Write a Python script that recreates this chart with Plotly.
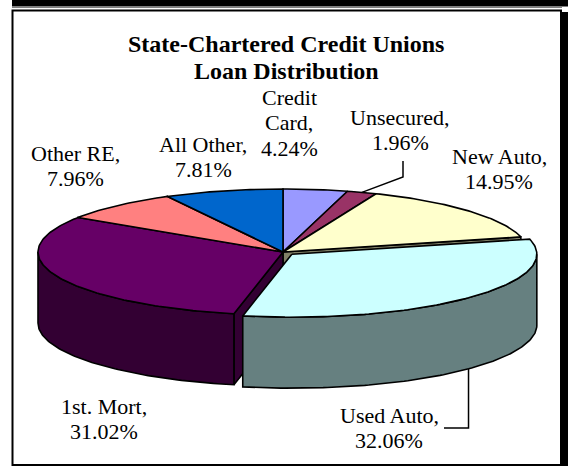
import numpy as np
import plotly.graph_objects as go

# ---------------- data ----------------
categories = ["Credit Card", "Unsecured", "New Auto", "Used Auto", "1st. Mort", "Other RE", "All Other"]
shares = [4.24, 1.96, 14.95, 32.06, 31.02, 7.96, 7.81]
label_names = [["Credit", "Card"], ["Unsecured"], ["New Auto"], ["Used Auto"], ["1st. Mort"], ["Other RE"], ["All Other"]]
title_lines = ["State-Chartered Credit Unions", "Loan Distribution"]

# ---------------- style ----------------
top_colors = ["#9999FF", "#993366", "#FFFFCC", "#CCFFFF", "#660066", "#FF8080", "#0066CC"]
side_colors = ["#4D4D80", "#4D1A33", "#808066", "#668080", "#330033", "#804040", "#003366"]
explode = [0, 0, 0, 0.05, 0, 0, 0]
CX, CY, RX, RY, DEPTH = 283.0, 252.0, 245.0, 63.0, 71.0
W, H = 568, 466
FONT = "Liberation Serif, Times New Roman, serif"
LABEL_SIZE, TITLE_SIZE = 22, 24
LINE_STEP = 25.5
# centre of the first label line (pixel layout)
label_pos = [(289, 97), (400, 117), (499, 156), (389, 415), (104, 406), (75, 153), (203, 144)]
title_pos = [(286, 44), (286, 71)]

total = float(sum(shares))
cum = np.concatenate([[0.0], np.cumsum(shares)])
starts = 360.0 * cum[:-1] / total
ends = 360.0 * cum[1:] / total


def offset(i):
    mid = np.radians((starts[i] + ends[i]) / 2)
    e = explode[i]
    return (e * RX * np.sin(mid), -e * RY * np.cos(mid))


def pt(th, z=0.0, off=(0.0, 0.0)):
    t = np.radians(th)
    return CX + off[0] + RX * np.sin(t), CY + off[1] - RY * np.cos(t) + z


def arc(a, b, z, off):
    n = max(2, int(abs(b - a) / 1.0) + 2)
    ths = np.linspace(a, b, n)
    xs, ys = pt(ths, z, off)
    return list(xs), list(ys)


fig = go.Figure()


def poly(xs, ys, color, lw=1.6):
    fig.add_trace(go.Scatter(
        x=list(xs) + [xs[0]], y=list(ys) + [ys[0]], mode="lines",
        fill="toself", fillcolor=color,
        line=dict(color="black", width=lw),
        hoverinfo="skip", showlegend=False))


def radial_faces(i, off):
    faces = []
    a, b = starts[i], ends[i]
    if np.sin(np.radians(a)) < -1e-9:
        faces.append(a)
    if np.sin(np.radians(b)) > 1e-9:
        faces.append(b)
    for th in faces:
        c0 = (CX + off[0], CY + off[1])
        e0 = pt(th, 0, off)
        e1 = pt(th, DEPTH, off)
        c1 = (CX + off[0], CY + off[1] + DEPTH)
        poly([c0[0], e0[0], e1[0], c1[0]], [c0[1], e0[1], e1[1], c1[1]], side_colors[i])


def wall(i, off):
    lo, hi = max(starts[i], 90.0), min(ends[i], 270.0)
    if hi <= lo:
        return
    xt, yt = arc(lo, hi, 0, off)
    xb, yb = arc(hi, lo, DEPTH, off)
    poly(xt + xb, yt + yb, side_colors[i])


def top(i, off):
    xa, ya = arc(starts[i], ends[i], 0, off)
    poly([CX + off[0]] + xa, [CY + off[1]] + ya, top_colors[i])


n = len(shares)
normal = [i for i in range(n) if explode[i] == 0]
exploded = [i for i in range(n) if explode[i] != 0]

face_order = sorted(normal, key=lambda i: -np.cos(np.radians((starts[i] + ends[i]) / 2)))
for i in face_order:
    radial_faces(i, (0.0, 0.0))
for i in normal:
    wall(i, (0.0, 0.0))
for i in normal:
    top(i, (0.0, 0.0))
for i in exploded:
    off = offset(i)
    radial_faces(i, off)
    wall(i, off)
    top(i, off)

# ---------------- leader lines ----------------
iu = categories.index("Unsecured")
mu = (starts[iu] + ends[iu]) / 2
ex, ey = pt(mu, 0, offset(iu))
fig.add_trace(go.Scatter(x=[403, 403, ex], y=[161, 177, ey], mode="lines",
                         line=dict(color="black", width=1.5), hoverinfo="skip", showlegend=False))
ia = categories.index("Used Auto")
ma = (starts[ia] + ends[ia]) / 2
bx, by = pt(ma, DEPTH, offset(ia))
fig.add_trace(go.Scatter(x=[bx, bx, 444], y=[by, 428, 428], mode="lines",
                         line=dict(color="black", width=1.5), hoverinfo="skip", showlegend=False))

# ---------------- labels ----------------
annotations = []


def text_line(x, y, txt, size):
    annotations.append(dict(x=x, y=y, xref="x", yref="y", text=txt, showarrow=False,
                            xanchor="center", yanchor="middle",
                            font=dict(family=FONT, size=size, color="black")))


for i in range(n):
    lines = list(label_names[i])
    lines[-1] = lines[-1] + ","
    lines.append(f"{shares[i]:.2f}%")
    x, y0 = label_pos[i]
    for k, ln in enumerate(lines):
        text_line(x, y0 + k * LINE_STEP, ln, LABEL_SIZE)
for line, (tx, ty) in zip(title_lines, title_pos):
    text_line(tx, ty, f"<b>{line}</b>", TITLE_SIZE)

# ---------------- frame ----------------
shapes = [
    dict(type="rect", xref="x", yref="y", x0=12, x1=568, y0=0, y1=6.5,
         fillcolor="black", line=dict(width=0), layer="below"),
    dict(type="line", xref="x", yref="y", x0=12, x1=562, y0=7.2, y1=7.2,
         line=dict(color="#808080", width=1.5), layer="below"),
    dict(type="rect", xref="x", yref="y", x0=561.5, x1=568, y0=12, y1=466,
         fillcolor="black", line=dict(width=0), layer="below"),
    dict(type="rect", xref="x", yref="y", x0=12.5, x1=561, y0=10.5, y1=465,
         fillcolor="rgba(0,0,0,0)", line=dict(color="black", width=2), layer="below"),
]

fig.update_layout(
    width=W, height=H, autosize=False,
    margin=dict(l=0, r=0, t=0, b=0, pad=0),
    paper_bgcolor="white", plot_bgcolor="white",
    xaxis=dict(range=[0, W], visible=False, fixedrange=True),
    yaxis=dict(range=[H, 0], visible=False, fixedrange=True),
    annotations=annotations, shapes=shapes, showlegend=False,
)

fig.write_html("out.html", config={"displayModeBar": False},
               post_script="document.body.style.margin='0';document.body.style.overflow='hidden';")
